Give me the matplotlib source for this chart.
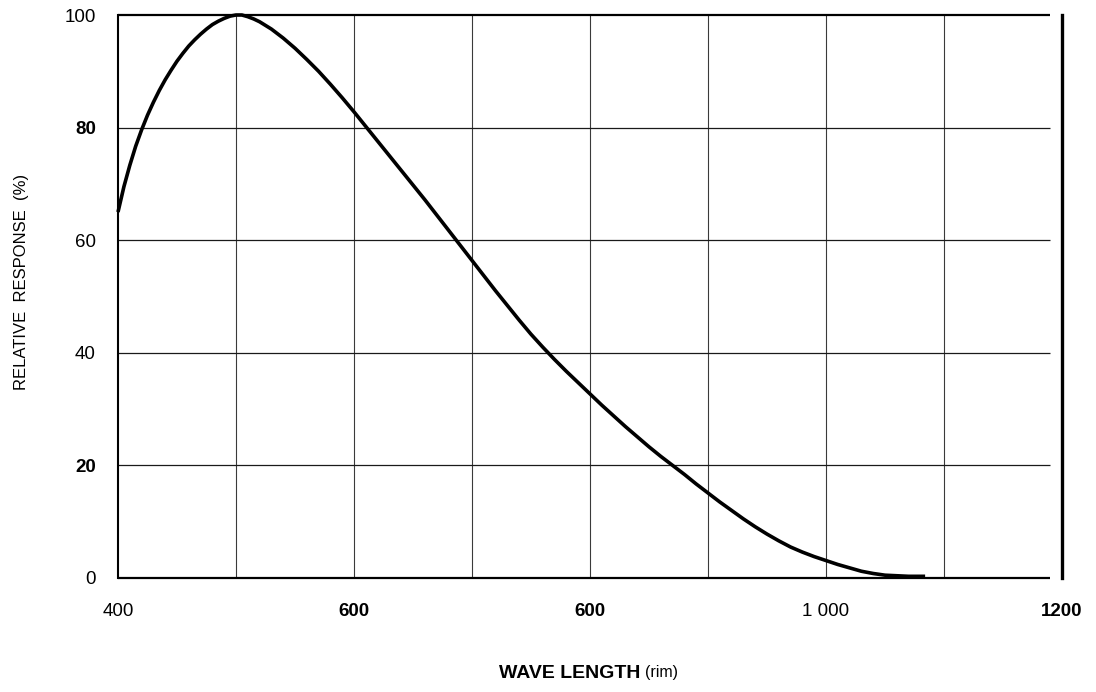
"""
Relative spectral response curve
"""
import numpy as np
import matplotlib.pyplot as plt

plt.rcParams["font.family"] = ["Liberation Sans", "DejaVu Sans"]

# curve
wavelength = [400, 405, 410, 415, 420, 425, 430, 435, 440, 445, 450, 455, 460,
              465, 470, 475, 480, 485, 490, 495, 500, 505, 510, 515, 520, 530,
              540, 550, 560, 570, 580, 590, 600, 610, 620, 630, 640, 650, 660,
              670, 680, 690, 700, 710, 720, 730, 740, 750, 760, 770, 780, 790,
              800, 810, 820, 830, 840, 850, 860, 870, 880, 890, 900, 910, 920,
              930, 940, 950, 960, 970, 980, 990, 1000, 1010, 1020, 1030, 1040,
              1050, 1060, 1070, 1084]
response = [65, 69.5, 73.3, 76.7, 79.6, 82.2, 84.5, 86.6, 88.5, 90.2, 91.8,
            93.2, 94.5, 95.6, 96.6, 97.5, 98.3, 98.9, 99.4, 99.8, 100, 100,
            99.7, 99.3, 98.8, 97.5, 95.9, 94.1, 92.1, 90, 87.7, 85.3, 82.8,
            80.2, 77.6, 75, 72.4, 69.8, 67.2, 64.5, 61.8, 59.1, 56.4, 53.7, 51,
            48.4, 45.8, 43.3, 41, 38.8, 36.7, 34.7, 32.7, 30.7, 28.8, 26.9,
            25.1, 23.3, 21.6, 20, 18.4, 16.7, 15.1, 13.5, 12, 10.5, 9.1,
            7.8, 6.6, 5.5, 4.6, 3.8, 3.1, 2.4, 1.8, 1.2, 0.8, 0.5, 0.4, 0.3, 0.3]

x_grid = [500, 600, 700, 800, 900, 1000, 1100]
y_grid = [20, 40, 60, 80]
x_ticks = [400, 600, 800, 1000, 1200]
x_labels = ["400", "600", "600", "1 000", "1200"]
x_bold = [False, True, True, False, True]
y_ticks = [0, 20, 40, 60, 80, 100]
y_labels = ["0", "20", "40", "60", "80", "100"]
y_bold = [False, True, False, False, True, False]

fig = plt.figure(figsize=(10.96, 6.92), dpi=100, facecolor="white")
ax = fig.add_axes([118 / 1096, 1 - 578 / 692, (1062 - 118) / 1096, (578 - 15) / 692])
ax.set_xlim(400, 1200)
ax.set_ylim(0, 100)

x_end = 1190  # grid and top/bottom rules stop short of the right edge
ax.vlines(x_grid, 0, 100, color="#3a3a3a", lw=0.8)
ax.hlines(y_grid, 400, x_end, color="#1a1a1a", lw=0.9)
ax.hlines([0, 100], 400, x_end, color="black", lw=1.6, clip_on=False)

ax.plot(wavelength, response, color="black", lw=2.6, clip_on=False,
        solid_capstyle="butt", solid_joinstyle="round")

for side in ["top", "bottom"]:
    ax.spines[side].set_visible(False)
ax.spines["left"].set_linewidth(1.5)
ax.spines["right"].set_linewidth(2.4)

ax.set_xticks(x_ticks)
ax.set_xticklabels(x_labels)
ax.set_yticks(y_ticks)
ax.set_yticklabels(y_labels)
ax.tick_params(axis="x", length=0, pad=18, labelsize=13.5)
ax.tick_params(axis="y", length=0, pad=16, labelsize=13.5)
for lab, b in zip(ax.get_xticklabels(), x_bold):
    lab.set_fontweight("bold" if b else "normal")
for lab, b in zip(ax.get_yticklabels(), y_bold):
    lab.set_fontweight("bold" if b else "normal")

fig.text(22 / 1096, 1 - 282 / 692, "RELATIVE  RESPONSE  (%)", rotation=90,
         ha="center", va="center", fontsize=12)
fig.text(640 / 1096, 1 - 673 / 692, "WAVE LENGTH", ha="right", va="center",
         fontsize=14, fontweight="bold")
fig.text(645 / 1096, 1 - 673 / 692, "(rim)", ha="left", va="center", fontsize=11.5)

fig.savefig("out.png", dpi=100, facecolor="white")
